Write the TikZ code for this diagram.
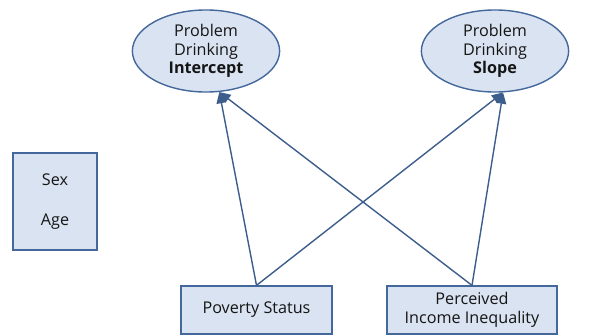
\documentclass[tikz,border=0pt]{standalone}
\usepackage{fontspec}
\setmainfont{Open Sans}
\usepackage{xcolor}
\definecolor{boxfill}{HTML}{DAE3F1}
\definecolor{boxline}{HTML}{44689B}
\definecolor{arrowblue}{HTML}{3D5E8C}
\definecolor{textdark}{HTML}{151515}
\usepackage{tikz}
\usetikzlibrary{arrows.meta, positioning, shapes.geometric}

\begin{document}
\begin{tikzpicture}[
        x=0.025cm, y=-0.025cm,
        every node/.style={font=\fontsize{11.5}{13.2}\selectfont, text=textdark},
        factor/.style={draw=boxline, line width=1pt, ellipse, fill=boxfill, minimum width=3.68cm, minimum height=2.05cm, align=center, inner sep=0pt},
        predictor/.style={draw=boxline, line width=0.9pt, rectangle, fill=boxfill, minimum height=1.2cm, align=center, inner sep=1pt},
        path/.style={-{Triangle[length=8pt, width=7pt]}, line width=1pt, draw=arrowblue}
    ]
        \useasboundingbox (0,0) rectangle (594,336);

        % Growth factors
        \node[factor] (icept) at (206,51) {Problem\\Drinking\\\textbf{Intercept}};
        \node[factor] (slope) at (495,51) {Problem\\Drinking\\\textbf{Slope}};

        % Covariates
        \node[predictor, minimum width=2.1cm, minimum height=2.43cm] (covar) at (55,201.5) {Sex\\[15pt]Age};

        % Predictors
        \node[predictor, minimum width=3.78cm] (pov) at (256.5,310) {Poverty Status};
        \node[predictor, minimum width=4.25cm] (ineq) at (472,310) {Perceived\\Income Inequality};

        % Paths
        \draw[path] (pov.north) -- (icept.-72);
        \draw[path] (pov.north) -- (slope.-79);
        \draw[path] (ineq.north) -- (icept.-72);
        \draw[path] (ineq.north) -- (slope.-79);
    \end{tikzpicture}
\end{document}
